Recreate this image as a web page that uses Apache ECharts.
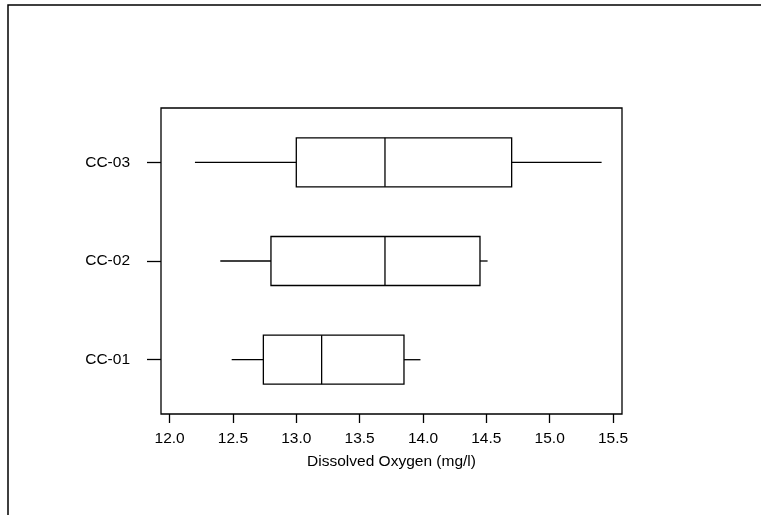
<!DOCTYPE html>
<html>
<head>
<meta charset="utf-8">
<script src="https://cdn.jsdelivr.net/npm/echarts@6/dist/echarts.min.js"></script>
<style>
  html, body { margin: 0; padding: 0; background: #fff; }
  #chart { width: 761px; height: 515px; }
</style>
</head>
<body>
<div id="chart"></div>
<script>
// stations, bottom to top
const stations = ['CC-01', 'CC-02', 'CC-03'];
const whiskerLow  = [12.49, 12.40, 12.20];
const q1          = [12.74, 12.80, 13.00];
const median      = [13.20, 13.70, 13.70];
const q3          = [13.85, 14.45, 14.70];
const whiskerHigh = [13.98, 14.51, 15.41];
const xTicks = [12.0, 12.5, 13.0, 13.5, 14.0, 14.5, 15.0, 15.5];

// rows: [position, min, q1, median, q3, max]
const boxData = stations.map((s, i) => [i + 1, whiskerLow[i], q1[i], median[i], q3[i], whiskerHigh[i]]);

const chart = echarts.init(document.getElementById('chart'));
const font = 'Liberation Sans, Arial, sans-serif';
const lineStyle = { stroke: '#000', lineWidth: 1.3 };

chart.setOption({
    animation: false,
    backgroundColor: '#fff',
    graphic: [{
        // outer frame, right/bottom edges run off the picture
        type: 'rect',
        shape: { x: 8, y: 5, width: 900, height: 700 },
        style: { fill: 'none', stroke: '#000', lineWidth: 1.5 },
        silent: true
    }],
    grid: {
        left: 161, right: 139, top: 108, bottom: 101,
        show: true, borderColor: '#000', borderWidth: 1.3, backgroundColor: 'transparent'
    },
    xAxis: {
        type: 'value',
        min: 11.932, max: 15.571,
        splitLine: { show: false },
        axisLine: { show: false },
        axisTick: { show: true, length: 9, customValues: xTicks, lineStyle: { color: '#000', width: 1.3 } },
        axisLabel: {
            customValues: xTicks, margin: 17,
            formatter: v => v.toFixed(1),
            color: '#000', fontFamily: font, fontSize: 15.5
        },
        name: 'Dissolved Oxygen (mg/l)',
        nameLocation: 'middle', nameGap: 40,
        nameTextStyle: { color: '#000', fontFamily: font, fontSize: 15.5 }
    },
    yAxis: {
        type: 'value',
        min: 0.45, max: 3.55,
        splitLine: { show: false },
        axisLine: { show: false },
        axisTick: { show: true, length: 14, customValues: [1, 2, 3], lineStyle: { color: '#000', width: 1.3 } },
        axisLabel: {
            customValues: [1, 2, 3], margin: 31,
            formatter: v => stations[Math.round(v) - 1] || '',
            color: '#000', fontFamily: font, fontSize: 15.5
        }
    },
    series: [{
        type: 'custom',
        data: boxData,
        encode: { x: [1, 2, 3, 4, 5], y: 0 },
        renderItem: (params, api) => {
            const y = api.value(0);
            const pMin = api.coord([api.value(1), y]);
            const pQ1 = api.coord([api.value(2), y]);
            const pMed = api.coord([api.value(3), y]);
            const pQ3 = api.coord([api.value(4), y]);
            const pMax = api.coord([api.value(5), y]);
            const h = 49;
            const cy = pMed[1];
            return {
                type: 'group',
                children: [
                    { type: 'line', shape: { x1: pMin[0], y1: cy, x2: pQ1[0], y2: cy }, style: lineStyle },
                    { type: 'line', shape: { x1: pQ3[0], y1: cy, x2: pMax[0], y2: cy }, style: lineStyle },
                    { type: 'rect', shape: { x: pQ1[0], y: cy - h / 2, width: pQ3[0] - pQ1[0], height: h },
                      style: { fill: 'none', stroke: '#000', lineWidth: 1.3 } },
                    { type: 'line', shape: { x1: pMed[0], y1: cy - h / 2, x2: pMed[0], y2: cy + h / 2 }, style: lineStyle }
                ]
            };
        }
    }]
});
</script>
</body>
</html>
